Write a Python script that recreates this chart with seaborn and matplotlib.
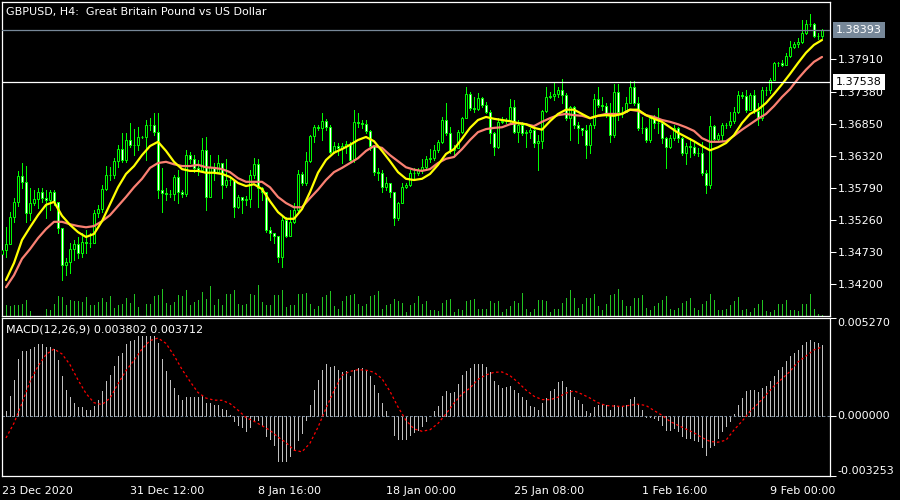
import matplotlib
matplotlib.use("Agg")
import matplotlib.pyplot as plt
import matplotlib.transforms as mtransforms
import numpy as np
import pandas as pd
import seaborn as sns

# ---------------- data (GBPUSD H4) ----------------
first_open = 1.3470
closes = [
    1.3477, 1.3486, 1.3531, 1.3556, 1.3599, 1.3589, 1.3537, 1.3554, 1.3561, 1.3572,
    1.3562, 1.3559, 1.3572, 1.3556, 1.3513, 1.3452, 1.3457, 1.3478, 1.3486, 1.3472,
    1.3490, 1.3488, 1.3488, 1.3537, 1.3544, 1.3577, 1.3600, 1.3600, 1.3623, 1.3643,
    1.3625, 1.3658, 1.3650, 1.3650, 1.3663, 1.3663, 1.3683, 1.3683, 1.3671, 1.3576,
    1.3571, 1.3569, 1.3569, 1.3597, 1.3572, 1.3569, 1.3633, 1.3627, 1.3612, 1.3609,
    1.3641, 1.3564, 1.3613, 1.3605, 1.3620, 1.3584, 1.3592, 1.3592, 1.3547, 1.3564,
    1.3559, 1.3561, 1.3600, 1.3618, 1.3579, 1.3572, 1.3510, 1.3505, 1.3500, 1.3465,
    1.3526, 1.3500, 1.3523, 1.3543, 1.3602, 1.3587, 1.3623, 1.3665, 1.3679, 1.3678,
    1.3689, 1.3679, 1.3638, 1.3648, 1.3645, 1.3648, 1.3651, 1.3625, 1.3688, 1.3686,
    1.3684, 1.3673, 1.3648, 1.3605, 1.3603, 1.3580, 1.3587, 1.3572, 1.3529, 1.3554,
    1.3580, 1.3584, 1.3603, 1.3603, 1.3609, 1.3613, 1.3627, 1.3628, 1.3641, 1.3655,
    1.3691, 1.3670, 1.3641, 1.3645, 1.3671, 1.3694, 1.3734, 1.3711, 1.3709, 1.3727,
    1.3716, 1.3704, 1.3670, 1.3646, 1.3688, 1.3689, 1.3691, 1.3712, 1.3671, 1.3683,
    1.3670, 1.3671, 1.3675, 1.3653, 1.3656, 1.3706, 1.3729, 1.3731, 1.3734, 1.3741,
    1.3732, 1.3694, 1.3712, 1.3683, 1.3678, 1.3675, 1.3650, 1.3683, 1.3726, 1.3716,
    1.3714, 1.3699, 1.3666, 1.3737, 1.3704, 1.3704, 1.3719, 1.3745, 1.3719, 1.3678,
    1.3678, 1.3658, 1.3694, 1.3686, 1.3686, 1.3661, 1.3646, 1.3661, 1.3678, 1.3661,
    1.3637, 1.3648, 1.3646, 1.3637, 1.3637, 1.3603, 1.3584, 1.3681, 1.3660, 1.3666,
    1.3683, 1.3683, 1.3689, 1.3704, 1.3732, 1.3731, 1.3708, 1.3732, 1.3706, 1.3694,
    1.3741, 1.3741, 1.3757, 1.3785, 1.3785, 1.3782, 1.3797, 1.3811, 1.3816, 1.3820,
    1.3835, 1.3849, 1.3849, 1.3830, 1.3830, 1.38393,
]
highs = [
    1.3481, 1.3514, 1.3539, 1.3562, 1.3607, 1.3620, 1.3615, 1.3579, 1.3576, 1.3579,
    1.3579, 1.3576, 1.3576, 1.3576, 1.3556, 1.3513, 1.3463, 1.3488, 1.3493, 1.3498,
    1.3505, 1.3510, 1.3505, 1.3543, 1.3551, 1.3584, 1.3615, 1.3613, 1.3628, 1.3650,
    1.3670, 1.3670, 1.3686, 1.3676, 1.3679, 1.3665, 1.3691, 1.3694, 1.3703, 1.3703,
    1.3612, 1.3579, 1.3576, 1.3600, 1.3609, 1.3576, 1.3641, 1.3638, 1.3633, 1.3625,
    1.3661, 1.3663, 1.3633, 1.3620, 1.3633, 1.3618, 1.3627, 1.3597, 1.3589, 1.3567,
    1.3564, 1.3566, 1.3609, 1.3628, 1.3627, 1.3580, 1.3562, 1.3514, 1.3505, 1.3498,
    1.3531, 1.3531, 1.3543, 1.3554, 1.3609, 1.3605, 1.3638, 1.3666, 1.3683, 1.3683,
    1.3703, 1.3693, 1.3683, 1.3655, 1.3653, 1.3653, 1.3656, 1.3655, 1.3708, 1.3703,
    1.3691, 1.3691, 1.3675, 1.3645, 1.3612, 1.3609, 1.3597, 1.3587, 1.3572, 1.3556,
    1.3587, 1.3587, 1.3609, 1.3612, 1.3612, 1.3627, 1.3632, 1.3643, 1.3650, 1.3658,
    1.3696, 1.3719, 1.3679, 1.3650, 1.3675, 1.3696, 1.3745, 1.3737, 1.3729, 1.3735,
    1.3729, 1.3721, 1.3708, 1.3671, 1.3694, 1.3696, 1.3694, 1.3726, 1.3724, 1.3691,
    1.3688, 1.3675, 1.3678, 1.3679, 1.3666, 1.3708, 1.3745, 1.3737, 1.3752, 1.3745,
    1.3759, 1.3735, 1.3714, 1.3714, 1.3688, 1.3678, 1.3683, 1.3686, 1.3734, 1.3745,
    1.3729, 1.3719, 1.3719, 1.3750, 1.3750, 1.3712, 1.3729, 1.3755, 1.3755, 1.3729,
    1.3696, 1.3679, 1.3696, 1.3699, 1.3711, 1.3691, 1.3663, 1.3666, 1.3683, 1.3679,
    1.3663, 1.3653, 1.3661, 1.3655, 1.3645, 1.3655, 1.3609, 1.3698, 1.3683, 1.3670,
    1.3686, 1.3686, 1.3704, 1.3712, 1.3739, 1.3737, 1.3741, 1.3735, 1.3741, 1.3719,
    1.3745, 1.3745, 1.3760, 1.3787, 1.3787, 1.3790, 1.3802, 1.3822, 1.3820, 1.3826,
    1.3856, 1.3856, 1.3866, 1.3851, 1.3835, 1.3841,
]
lows = [
    1.3465, 1.3465, 1.3486, 1.3523, 1.3549, 1.3579, 1.3523, 1.3526, 1.3551, 1.3546,
    1.3556, 1.3529, 1.3543, 1.3551, 1.3505, 1.3427, 1.3435, 1.3439, 1.3460, 1.3463,
    1.3465, 1.3472, 1.3481, 1.3496, 1.3531, 1.3539, 1.3576, 1.3592, 1.3595, 1.3613,
    1.3622, 1.3622, 1.3646, 1.3633, 1.3641, 1.3661, 1.3625, 1.3674, 1.3666, 1.3562,
    1.3539, 1.3559, 1.3564, 1.3559, 1.3554, 1.3564, 1.3566, 1.3620, 1.3605, 1.3600,
    1.3605, 1.3543, 1.3564, 1.3592, 1.3603, 1.3562, 1.3580, 1.3584, 1.3531, 1.3546,
    1.3537, 1.3551, 1.3547, 1.3595, 1.3547, 1.3559, 1.3506, 1.3493, 1.3488, 1.3457,
    1.3448, 1.3498, 1.3501, 1.3521, 1.3537, 1.3584, 1.3584, 1.3622, 1.3655, 1.3674,
    1.3658, 1.3674, 1.3637, 1.3637, 1.3633, 1.3620, 1.3637, 1.3622, 1.3622, 1.3679,
    1.3678, 1.3670, 1.3641, 1.3600, 1.3592, 1.3572, 1.3576, 1.3564, 1.3518, 1.3526,
    1.3554, 1.3579, 1.3582, 1.3592, 1.3600, 1.3603, 1.3612, 1.3622, 1.3625, 1.3638,
    1.3653, 1.3666, 1.3637, 1.3633, 1.3650, 1.3670, 1.3694, 1.3708, 1.3704, 1.3708,
    1.3712, 1.3703, 1.3653, 1.3633, 1.3645, 1.3686, 1.3686, 1.3686, 1.3670, 1.3655,
    1.3666, 1.3646, 1.3661, 1.3646, 1.3609, 1.3645, 1.3704, 1.3727, 1.3724, 1.3729,
    1.3719, 1.3691, 1.3658, 1.3678, 1.3653, 1.3666, 1.3628, 1.3637, 1.3678, 1.3712,
    1.3708, 1.3696, 1.3655, 1.3663, 1.3691, 1.3696, 1.3704, 1.3719, 1.3716, 1.3674,
    1.3670, 1.3655, 1.3655, 1.3678, 1.3670, 1.3653, 1.3612, 1.3645, 1.3658, 1.3655,
    1.3633, 1.3618, 1.3630, 1.3633, 1.3632, 1.3600, 1.3571, 1.3579, 1.3656, 1.3656,
    1.3658, 1.3678, 1.3679, 1.3686, 1.3703, 1.3727, 1.3704, 1.3727, 1.3703, 1.3683,
    1.3691, 1.3732, 1.3735, 1.3757, 1.3780, 1.3780, 1.3782, 1.3795, 1.3810, 1.3811,
    1.3818, 1.3833, 1.3846, 1.3828, 1.3825, 1.3826,
]
volumes = [
    3400, 3200, 2900, 3200, 3200, 3700, 4700, 1400, 100, 100,
    100, 2200, 1900, 3700, 5900, 5700, 3200, 4700, 4400, 4400,
    4200, 5700, 3200, 3200, 4200, 5500, 4200, 5900, 2400, 3200,
    3700, 5400, 3900, 6700, 2700, 100, 3700, 3700, 5900, 6200,
    8200, 3900, 3200, 4200, 6200, 5900, 7700, 3200, 4200, 4700,
    7200, 5200, 8900, 3200, 5200, 3200, 6500, 6700, 7900, 3500,
    3200, 3500, 6500, 6200, 9200, 4200, 3200, 3200, 6200, 6200,
    7900, 2700, 3200, 3200, 6500, 6500, 7000, 3700, 2200, 2900,
    5700, 6200, 7400, 2900, 2200, 4400, 5900, 6200, 6700, 3500,
    2900, 3500, 5900, 6200, 7400, 2200, 3200, 3700, 5000, 4500,
    4000, 1300, 3200, 4000, 5900, 3500, 4400, 1900, 1900, 1600,
    4000, 4700, 5200, 1300, 2200, 1900, 4400, 4700, 5000, 2200,
    2000, 2200, 4400, 4000, 4400, 1300, 2000, 3000, 4400, 4000,
    7000, 2000, 1100, 2200, 4700, 4700, 4400, 1300, 2000, 2200,
    4000, 5400, 7900, 5400, 2500, 3500, 5500, 5500, 6700, 2900,
    1700, 3700, 6200, 6700, 8200, 4700, 2900, 2900, 5400, 5400,
    6200, 2400, 1700, 2900, 4000, 4700, 5900, 2000, 1700, 2400,
    4000, 4400, 5400, 2400, 1700, 3500, 4400, 6500, 4700, 1700,
    1700, 2000, 3200, 4400, 5700, 1700, 2000, 1100, 2400, 3700,
    4700, 1400, 1100, 1700, 3700, 3500, 4700, 1700, 1700, 1400,
    3700, 3700, 6500, 2000, 600, 400,
]

# moving averages and MACD signal, read every second bar
line_bars = list(range(1, 206, 2))
ma_fast = [
    1.3427, 1.3455, 1.3493, 1.3514, 1.3534, 1.3551, 1.3556, 1.3533, 1.3518, 1.3506,
    1.3498, 1.3503, 1.3524, 1.3552, 1.3580, 1.3602, 1.3615, 1.3633, 1.3648, 1.3655,
    1.3640, 1.3622, 1.3610, 1.3607, 1.3607, 1.3604, 1.3604, 1.3602, 1.3597, 1.3587,
    1.3582, 1.3585, 1.3577, 1.3557, 1.3539, 1.3528, 1.3528, 1.3544, 1.3572, 1.3604,
    1.3625, 1.3637, 1.3643, 1.3650, 1.3658, 1.3663, 1.3656, 1.3640, 1.3623, 1.3605,
    1.3594, 1.3592, 1.3594, 1.3602, 1.3617, 1.3635, 1.3643, 1.3660, 1.3678, 1.3691,
    1.3696, 1.3693, 1.3691, 1.3689, 1.3686, 1.3684, 1.3678, 1.3675, 1.3689, 1.3701,
    1.3708, 1.3708, 1.3701, 1.3694, 1.3698, 1.3699, 1.3698, 1.3701, 1.3708, 1.3708,
    1.3699, 1.3693, 1.3688, 1.3679, 1.3670, 1.3663, 1.3656, 1.3648, 1.3641, 1.3646,
    1.3653, 1.3666, 1.3686, 1.3701, 1.3708, 1.3719, 1.3734, 1.3750, 1.3767, 1.3785,
    1.3802, 1.3815, 1.3823,
]
ma_slow = [
    1.3415, 1.3435, 1.3462, 1.3478, 1.3496, 1.3511, 1.3523, 1.3523, 1.3519, 1.3516,
    1.3514, 1.3516, 1.3524, 1.3534, 1.3549, 1.3564, 1.3580, 1.3594, 1.3612, 1.3620,
    1.3622, 1.3618, 1.3615, 1.3615, 1.3617, 1.3613, 1.3612, 1.3610, 1.3605, 1.3595,
    1.3589, 1.3589, 1.3589, 1.3580, 1.3564, 1.3554, 1.3547, 1.3547, 1.3562, 1.3576,
    1.3592, 1.3605, 1.3612, 1.3620, 1.3628, 1.3640, 1.3648, 1.3645, 1.3633, 1.3623,
    1.3613, 1.3609, 1.3607, 1.3610, 1.3620, 1.3627, 1.3630, 1.3643, 1.3658, 1.3671,
    1.3676, 1.3678, 1.3679, 1.3684, 1.3686, 1.3684, 1.3681, 1.3688, 1.3694, 1.3699,
    1.3701, 1.3699, 1.3698, 1.3694, 1.3698, 1.3701, 1.3701, 1.3701, 1.3708, 1.3706,
    1.3699, 1.3696, 1.3691, 1.3688, 1.3684, 1.3679, 1.3673, 1.3661, 1.3655, 1.3655,
    1.3656, 1.3665, 1.3675, 1.3684, 1.3693, 1.3701, 1.3714, 1.3729, 1.3742, 1.3759,
    1.3774, 1.3787, 1.3795,
]
macd_main = [
    0.00009, 0.00027, 0.00108, 0.00191, 0.00306, 0.00347, 0.00351, 0.00362, 0.00371, 0.00387,
    0.00389, 0.00371, 0.00371, 0.00360, 0.00302, 0.00212, 0.00140, 0.00101, 0.00068, 0.00045,
    0.00045, 0.00029, 0.00029, 0.00054, 0.00086, 0.00131, 0.00185, 0.00221, 0.00270, 0.00320,
    0.00338, 0.00387, 0.00401, 0.00410, 0.00432, 0.00432, 0.00432, 0.00432, 0.00432, 0.00392,
    0.00306, 0.00239, 0.00191, 0.00149, 0.00113, 0.00083, 0.00099, 0.00101, 0.00101, 0.00101,
    0.00104, 0.00068, 0.00068, 0.00059, 0.00059, 0.00036, 0.00032, 0.00004, -0.00031, -0.00049,
    -0.00061, -0.00085, -0.00061, -0.00031, -0.00022, -0.00049, -0.00108, -0.00126, -0.00157, -0.00247,
    -0.00247, -0.00247, -0.00220, -0.00187, -0.00130, -0.00094, -0.00022, 0.00059, 0.00140, 0.00194,
    0.00248, 0.00281, 0.00263, 0.00270, 0.00248, 0.00234, 0.00239, 0.00212, 0.00248, 0.00257,
    0.00257, 0.00245, 0.00212, 0.00167, 0.00122, 0.00068, 0.00023, -0.00004, -0.00103, -0.00126,
    -0.00126, -0.00126, -0.00103, -0.00090, -0.00076, -0.00054, -0.00031, -0.00004, 0.00023, 0.00054,
    0.00108, 0.00131, 0.00122, 0.00126, 0.00173, 0.00221, 0.00239, 0.00257, 0.00281, 0.00281,
    0.00281, 0.00263, 0.00234, 0.00185, 0.00167, 0.00149, 0.00155, 0.00158, 0.00140, 0.00122,
    0.00101, 0.00086, 0.00050, 0.00047, 0.00032, 0.00068, 0.00095, 0.00131, 0.00146, 0.00180,
    0.00185, 0.00155, 0.00137, 0.00101, 0.00086, 0.00065, 0.00023, 0.00014, 0.00047, 0.00059,
    0.00065, 0.00059, 0.00032, 0.00059, 0.00054, 0.00054, 0.00059, 0.00090, 0.00101, 0.00059,
    0.00032, -0.00007, -0.00007, -0.00013, -0.00022, -0.00049, -0.00079, -0.00079, -0.00067, -0.00085,
    -0.00108, -0.00121, -0.00121, -0.00130, -0.00139, -0.00169, -0.00211, -0.00169, -0.00157, -0.00121,
    -0.00085, -0.00058, -0.00031, 0.00011, 0.00059, 0.00095, 0.00131, 0.00140, 0.00140, 0.00126,
    0.00149, 0.00158, 0.00185, 0.00216, 0.00248, 0.00263, 0.00293, 0.00320, 0.00338, 0.00353,
    0.00383, 0.00396, 0.00410, 0.00396, 0.00392, 0.003802,
]
macd_signal = [
    -0.00120, -0.00040, 0.00068, 0.00185, 0.00267, 0.00330, 0.00360, 0.00333, 0.00275, 0.00193,
    0.00120, 0.00070, 0.00060, 0.00095, 0.00172, 0.00243, 0.00298, 0.00360, 0.00405, 0.00419,
    0.00390, 0.00325, 0.00250, 0.00185, 0.00125, 0.00095, 0.00084, 0.00083, 0.00065, 0.00030,
    -0.00010, -0.00030, -0.00054, -0.00079, -0.00115, -0.00145, -0.00186, -0.00195, -0.00148, -0.00062,
    0.00040, 0.00135, 0.00218, 0.00239, 0.00248, 0.00246, 0.00234, 0.00200, 0.00131, 0.00047,
    -0.00025, -0.00071, -0.00084, -0.00076, -0.00042, 0.00010, 0.00068, 0.00118, 0.00149, 0.00196,
    0.00220, 0.00234, 0.00236, 0.00216, 0.00180, 0.00138, 0.00105, 0.00087, 0.00086, 0.00100,
    0.00122, 0.00134, 0.00116, 0.00095, 0.00070, 0.00055, 0.00052, 0.00050, 0.00056, 0.00062,
    0.00055, 0.00028, 0.00002, -0.00031, -0.00052, -0.00072, -0.00092, -0.00118, -0.00139, -0.00143,
    -0.00132, -0.00077, -0.00030, 0.00023, 0.00065, 0.00112, 0.00160, 0.00199, 0.00239, 0.00290,
    0.00322, 0.00355, 0.003712,
]

date_bars = [0, 32, 64, 96, 128, 160, 192]
date_labels = ['23 Dec 2020', '31 Dec 12:00', '8 Jan 16:00', '18 Jan 00:00',
               '25 Jan 08:00', '1 Feb 16:00', '9 Feb 00:00']
price_ticks = [1.34200, 1.34730, 1.35260, 1.35790, 1.36320, 1.36850, 1.37380, 1.37910]
bid_price = 1.38393
level_price = 1.37538
macd_range = [-0.003253, 0.005270]

assert len(closes) == len(highs) == len(lows) == len(volumes) == len(macd_main)
assert len(line_bars) == len(ma_fast) == len(ma_slow) == len(macd_signal)

# ---------------- styling ----------------
LIME = '#00FF00'
VOL_GREEN = '#22C322'
GREY = '#778899'
PX = 0.6  # one screen pixel, in points, for the non-antialiased strokes

sns.set_style('dark', {'axes.facecolor': 'black', 'figure.facecolor': 'black',
                       'axes.edgecolor': 'white'})
plt.rcParams['font.family'] = ['DejaVu Sans']
plt.rcParams['font.size'] = 8

df = pd.DataFrame({'bar': np.arange(len(closes)), 'close': closes, 'high': highs,
                   'low': lows, 'volume': volumes, 'macd': macd_main})
df['open'] = [first_open] + closes[:-1]
up = df['close'] >= df['open']

W, H = 900, 500
fig = plt.figure(figsize=(W / 100, H / 100), dpi=100)


def px_axes(x0, y0, x1, y1):
    return fig.add_axes([x0 / W, 1 - y1 / H, (x1 - x0) / W, (y1 - y0) / H])


ax = px_axes(2, 2, 830, 316)
axm = px_axes(2, 318, 830, 476)

# volume lives behind the candles on its own scale
vax = ax.twinx()
vax.set_zorder(ax.get_zorder() - 1)
ax.patch.set_visible(False)
vax.patch.set_facecolor('black')
vax.vlines(df['bar'], 0, df['volume'], color=VOL_GREEN, linewidth=PX, antialiased=False)
vax.set_ylim(0, 94200)
vax.set_yticks([])
for s in vax.spines.values():
    s.set_visible(False)

# candles
ax.vlines(df['bar'], df['low'], df['high'], color=LIME, linewidth=PX, zorder=2,
          antialiased=False)
ax.bar(df['bar'][up], (df['close'] - df['open'])[up], bottom=df['open'][up], width=0.5,
       color='black', edgecolor=LIME, linewidth=0.7, zorder=3)
ax.bar(df['bar'][~up], (df['close'] - df['open'])[~up], bottom=df['open'][~up], width=0.5,
       color='white', edgecolor=LIME, linewidth=0.7, zorder=3)

# moving averages
sns.lineplot(x=line_bars, y=ma_slow, ax=ax, color='#FA8072', linewidth=1.6, zorder=4)
sns.lineplot(x=line_bars, y=ma_fast, ax=ax, color='#FFFF00', linewidth=1.6, zorder=5)

ax.axhline(bid_price, color=GREY, linewidth=0.9, zorder=6)
ax.axhline(level_price, color='white', linewidth=0.9, zorder=6)

ax.set_xlim(0, 207)
ax.set_ylim(1.33676, 1.38857)
ax.set_xticks([])
ax.yaxis.tick_right()
ax.set_yticks(price_ticks)
ax.set_yticklabels([f'{p:.5f}' for p in price_ticks])
ax.tick_params(axis='y', colors='white', length=4, width=0.75, pad=1.5, labelsize=8)
ax.set_xlabel('')
ax.set_ylabel('')

lbl_tr = mtransforms.offset_copy(
    mtransforms.blended_transform_factory(ax.transAxes, ax.transData), fig=fig, x=6, units='dots')
ax.text(1.0, bid_price, f'{bid_price:.5f}', transform=lbl_tr, ha='left', va='center',
        color='white', fontsize=8, clip_on=False, zorder=10,
        bbox=dict(boxstyle='square,pad=0.25', fc=GREY, ec='none'))
ax.text(1.0, level_price, f'{level_price:.5f}', transform=lbl_tr, ha='left', va='center',
        color='black', fontsize=8, clip_on=False, zorder=10,
        bbox=dict(boxstyle='square,pad=0.25', fc='white', ec='none'))

# MACD panel
axm.vlines(df['bar'], 0, df['macd'], color='#C0C0C0', linewidth=PX, antialiased=False)
axm.axhline(0, color=GREY, linewidth=0.75, dashes=(2.5, 2))
sns.lineplot(x=line_bars, y=macd_signal, ax=axm, color='red', linewidth=0.9,
             linestyle=(0, (2, 2)))
axm.set_xlim(0, 207)
axm.set_ylim(*macd_range)
axm.yaxis.tick_right()
macd_ticks = [macd_range[1], 0.0, macd_range[0]]
axm.set_yticks(macd_ticks)
axm.set_yticklabels([f'{v:.6f}' for v in macd_ticks])
axm.tick_params(axis='y', colors='white', length=4, width=0.75, pad=1.5, labelsize=8)
for lab, va in zip(axm.get_yticklabels(), ['top', 'center', 'bottom']):
    lab.set_verticalalignment(va)
axm.set_xticks(date_bars)
axm.set_xticklabels(date_labels, ha='left')
axm.tick_params(axis='x', colors='white', length=5, width=0.75, pad=2, labelsize=8)
axm.set_xlabel('')
axm.set_ylabel('')

for a in (ax, axm):
    a.grid(False)
    for s in a.spines.values():
        s.set_color('white')
        s.set_linewidth(0.9)

fig.text(6 / W, 1 - 12 / H, 'GBPUSD, H4:  Great Britain Pound vs US Dollar',
         color='white', fontsize=8, va='center')
fig.text(6 / W, 1 - 329 / H, f'MACD(12,26,9) {macd_main[-1]:.6f} {macd_signal[-1]:.6f}',
         color='white', fontsize=8, va='center')

fig.savefig('out.png', dpi=100, facecolor='black')
